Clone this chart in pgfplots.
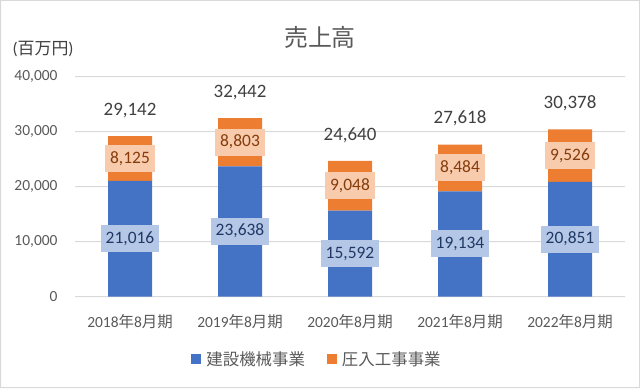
\documentclass[border=0pt]{standalone}
\usepackage{pgfplots}
\pgfplotsset{compat=1.18}
\usepackage{pgfplotstable}
\usepackage{fontspec}
\setmainfont{Carlito}
\newfontfamily\cjk{Noto Sans CJK JP}
\definecolor{cblue}{HTML}{4472C4}
\definecolor{corange}{HTML}{ED7D31}
\definecolor{lblue}{HTML}{B4C7E7}
\definecolor{lorange}{HTML}{F8CBAD}
\definecolor{tblue}{HTML}{203864}
\definecolor{torange}{HTML}{843C0C}
\definecolor{tgray}{HTML}{404040}
\definecolor{lgray}{HTML}{595959}
\definecolor{ggray}{HTML}{D9D9D9}

\pgfplotstableread{
x a b t
0 21016 8125 29142
1 23638 8803 32442
2 15592 9048 24640
3 19134 8484 27618
4 20851 9526 30378
}\data

\pgfplotsset{
  common/.style={
    at={(75bp,91.5bp)}, anchor=south west, scale only axis,
    width=550bp, height=220bp,
    xmin=-0.5, xmax=4.5, ymin=0, ymax=40000,
    /pgf/number format/.cd, 1000 sep={,}, assume math mode=true, /pgfplots/.cd,
  }
}

\begin{document}
\begin{tikzpicture}[x=1bp,y=1bp]
\fill[ggray, even odd rule] (0,0) rectangle (640,388) (1,1) rectangle (639,387);
\node[text=lgray, font=\cjk\fontsize{24}{27}\selectfont] at (320,351) {売上高};
\node[text=tgray, anchor=west, font=\fontsize{17}{20}\selectfont] at (9,339) {({\cjk 百万円})};
% background axis: ticks, labels, grid (grid lines as 1bp bands)
\begin{axis}[common, clip=false,
  axis x line*=bottom, axis y line*=left,
  x axis line style={draw=none},
  y axis line style={draw=none},
  scaled y ticks=false,
  ytick={0,10000,20000,30000,40000},
  xtick={0,1,2,3,4},
  xticklabels={{2018{\cjk 年}8{\cjk 月期}},{2019{\cjk 年}8{\cjk 月期}},{2020{\cjk 年}8{\cjk 月期}},{2021{\cjk 年}8{\cjk 月期}},{2022{\cjk 年}8{\cjk 月期}}},
  major tick length=0pt,
  ticklabel style={font=\fontsize{15.5}{18}\selectfont, text=lgray},
  xticklabel style={yshift=-14bp},
  yticklabel style={xshift=-14bp},
]
\pgfplotsinvokeforeach{0,10000,20000,30000,40000}{
  \addplot[fill=ggray, draw=none, mark=none] coordinates
    {(-0.5,#1-90.9) (4.5,#1-90.9) (4.5,#1+90.9) (-0.5,#1+90.9) (-0.5,#1-90.9)};
}
\end{axis}
% bars
\begin{axis}[common, hide axis,
  ybar stacked, bar width=44bp,
  legend columns=2,
  legend style={at={(0.44,-0.284)}, anchor=center, draw=none, fill=none,
    font=\cjk\fontsize{16.5}{19}\selectfont, text=lgray,
    /tikz/column 2/.style={column sep=20bp}},
  legend image code/.code={\fill[#1] (0bp,-5bp) rectangle (10bp,5bp); \path (13bp,0bp);},
]
\addplot[fill=cblue, draw=none] table[x=x, y=a] {\data};
\addlegendentry{建設機械事業}
\addplot[fill=corange, draw=none] table[x=x, y=b] {\data};
\addlegendentry{圧入工事事業}
\end{axis}
% labels
\begin{axis}[common, hide axis, clip=false]
\addplot[draw=none, mark=none, nodes near coords, point meta=explicit,
  every node near coord/.style={anchor=center, fill=lblue, text=tblue,
    font=\fontsize{17.5}{20}\selectfont, inner xsep=5bp, inner ysep=6bp,
    text height=12bp, text depth=3bp}]
  table[x=x, y expr=\thisrow{a}/2, meta=a] {\data};
\addplot[draw=none, mark=none, nodes near coords, point meta=explicit,
  every node near coord/.style={anchor=center, fill=lorange, text=torange,
    font=\fontsize{17.5}{20}\selectfont, inner xsep=5.5bp, inner ysep=6bp,
    text height=12bp, text depth=3bp}]
  table[x=x, y expr=\thisrow{a}+\thisrow{b}/2, meta=b] {\data};
\addplot[draw=none, mark=none, nodes near coords, point meta=explicit,
  every node near coord/.style={anchor=center, yshift=26bp, text=tgray,
    font=\fontsize{19}{22}\selectfont}]
  table[x=x, y=t, meta=t] {\data};
\end{axis}
\end{tikzpicture}
\end{document}
